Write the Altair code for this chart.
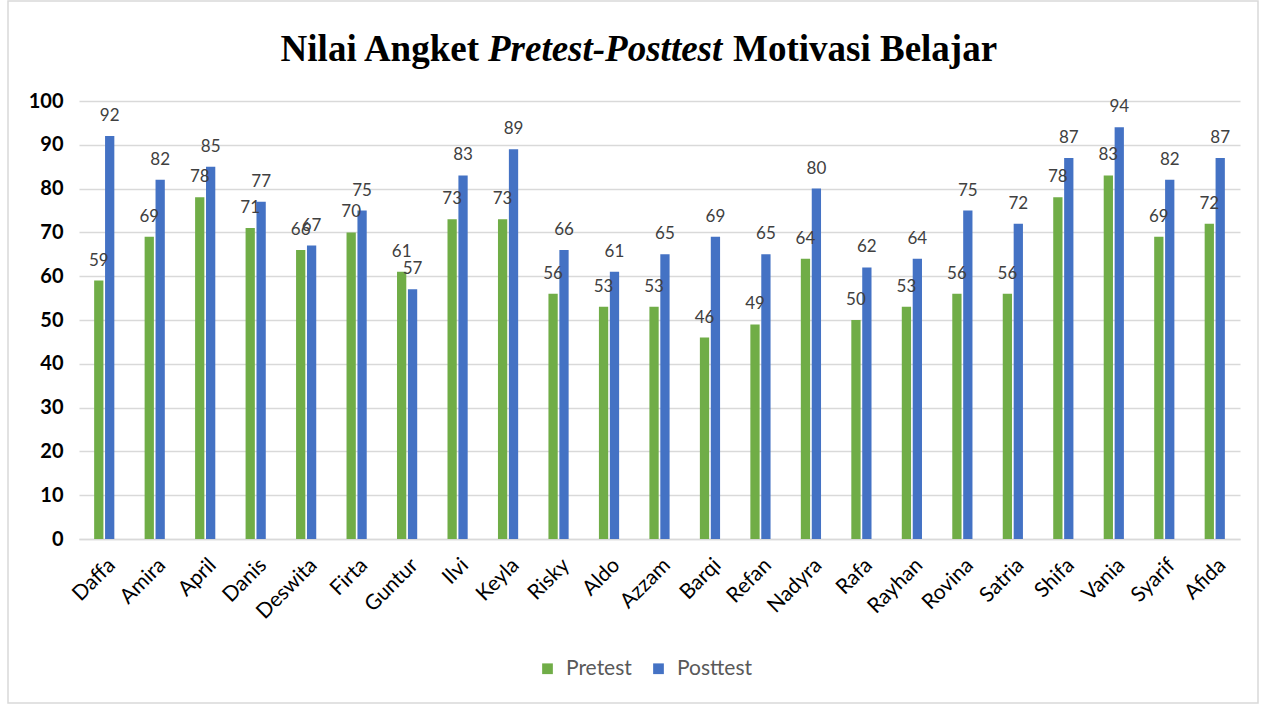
import altair as alt
import pandas as pd

names = ["Daffa", "Amira", "April", "Danis", "Deswita", "Firta", "Guntur", "Ilvi",
         "Keyla", "Risky", "Aldo", "Azzam", "Barqi", "Refan", "Nadyra", "Rafa",
         "Rayhan", "Rovina", "Satria", "Shifa", "Vania", "Syarif", "Afida"]
pretest = [59, 69, 78, 71, 66, 70, 61, 73, 73, 56, 53, 53, 46, 49, 64, 50, 53, 56, 56, 78, 83, 69, 72]
posttest = [92, 82, 85, 77, 67, 75, 57, 83, 89, 66, 61, 65, 69, 65, 80, 62, 64, 75, 72, 87, 94, 82, 87]
series = ["Pretest", "Posttest"]
colors = ["#70AD47", "#4472C4"]
y_ticks = list(range(0, 101, 10))
title_parts = ["Nilai Angket", "Pretest-Posttest", "Motivasi Belajar"]

rows = []
for n, a, b in zip(names, pretest, posttest):
    rows.append({"Nama": n, "Seri": series[0], "Nilai": a})
    rows.append({"Nama": n, "Seri": series[1], "Nilai": b})
df = pd.DataFrame(rows)

W, H = 1161, 438
LEFT, TOP = 79, 101

x_enc = alt.X("Nama:N", sort=names,
              scale=alt.Scale(paddingInner=0.6, paddingOuter=0.3),
              axis=alt.Axis(title=None, labelAngle=-45, labelFontSize=21, labelFont="Lato",
                            labelColor="#000000", ticks=False, domainColor="#D9D9D9",
                            domainWidth=1.5, labelPadding=15, grid=False))
xo = alt.XOffset("Seri:N", sort=series, scale=alt.Scale(paddingInner=0.15))
y_enc = alt.Y("Nilai:Q", scale=alt.Scale(domain=[0, 100], nice=False),
              axis=alt.Axis(title=None, values=y_ticks, labelFontSize=20, labelFontWeight="bold",
                            labelFont="Lato", labelColor="#000000", ticks=False, domain=False,
                            gridColor="#D9D9D9", gridWidth=1.5, labelPadding=16))
color = alt.Color("Seri:N", sort=series,
                  scale=alt.Scale(domain=series, range=colors),
                  legend=alt.Legend(title=None, orient="none", direction="horizontal",
                                    legendX=458, legendY=557, symbolType="square",
                                    symbolSize=115, symbolStrokeWidth=0, labelFontSize=21,
                                    labelFont="Lato", labelColor="#595959",
                                    columnPadding=16, labelOffset=8))

bars = alt.Chart(df).mark_bar().encode(x=x_enc, xOffset=xo, y=y_enc, color=color)
labels = alt.Chart(df).mark_text(baseline="alphabetic", dy=-15, font="Lato", fontSize=17,
                                 color="#404040").encode(
    x=alt.X("Nama:N", sort=names), xOffset=alt.XOffset("Seri:N", sort=series),
    y="Nilai:Q", text="Nilai:Q")

def title_piece(txt, xpos, align, style):
    return alt.Chart(pd.DataFrame({"t": [txt]})).mark_text(
        align=align, baseline="alphabetic", font="Liberation Serif", fontSize=37,
        fontWeight="bold", fontStyle=style, color="#000000").encode(
        x=alt.value(xpos), y=alt.value(-40), text="t:N")

t1 = title_piece(title_parts[0], 479 - LEFT, "right", "normal")
t2 = title_piece(title_parts[1], 488 - LEFT, "left", "italic")
t3 = title_piece(title_parts[2], 733 - LEFT, "left", "normal")

border = alt.Chart(pd.DataFrame({"a": [0]})).mark_rect(
    fill="transparent", stroke="#D9D9D9", strokeWidth=1.5).encode(
    x=alt.value(8 - LEFT), x2=alt.value(1258 - LEFT),
    y=alt.value(-TOP + 1), y2=alt.value(703 - TOP))

chart = alt.layer(border, bars, labels, t1, t2, t3).properties(
    width=W, height=H,
    padding={"left": LEFT, "top": TOP, "right": 1261 - LEFT - W, "bottom": 705 - TOP - H},
    autosize=alt.AutoSizeParams(type="none"),
    background="white",
).configure_view(stroke="transparent")

chart.save("out.html", embed_options={"renderer": "svg", "actions": False})
